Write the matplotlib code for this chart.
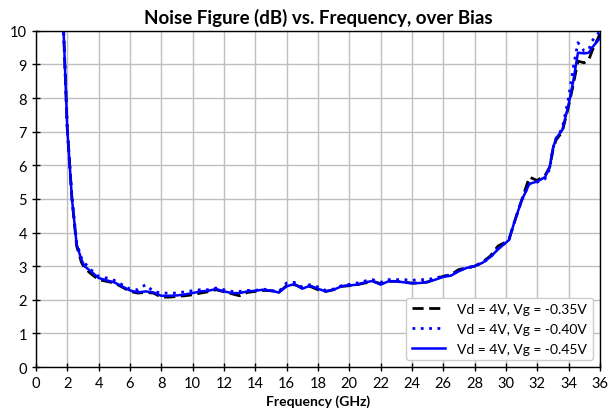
import matplotlib
matplotlib.use("Agg")
import matplotlib.pyplot as plt
import numpy as np

plt.rcParams["font.family"] = ["Lato", "DejaVu Sans"]

# frequency grid (GHz), shared by the three bias curves
freq = [1.75, 2.0, 2.3, 2.6, 2.9, 3.1, 3.5, 4.0, 4.5, 5.0, 5.5, 6.0, 6.5, 7.0, 7.5,
        8.0, 8.5, 9.0, 9.5, 10.0, 10.5, 11.0, 11.5, 12.0, 12.5, 13.0, 13.5, 14.0,
        14.5, 15.0, 15.5, 16.0, 16.5, 17.0, 17.5, 18.0, 18.5, 19.0, 19.5, 20.0,
        20.5, 21.0, 21.5, 22.0, 22.5, 23.0, 23.5, 24.0, 24.5, 25.0, 25.5, 26.0,
        26.5, 27.0, 27.5, 28.0, 28.5, 29.0, 29.5, 30.0, 30.2, 30.5, 31.0, 31.5,
        32.0, 32.5, 32.8, 33.0, 33.2, 33.6, 34.0, 34.3, 34.6, 35.0, 35.3, 35.5, 36.0]

nf_035 = [10.2, 7.1, 5.0, 3.6, 3.12, 2.95, 2.78, 2.6, 2.55, 2.5, 2.38, 2.25, 2.2,
          2.22, 2.2, 2.08, 2.08, 2.1, 2.12, 2.15, 2.2, 2.24, 2.3, 2.24, 2.18, 2.12,
          2.22, 2.25, 2.28, 2.27, 2.22, 2.42, 2.45, 2.36, 2.4, 2.3, 2.25, 2.3, 2.4,
          2.42, 2.45, 2.5, 2.55, 2.48, 2.55, 2.55, 2.52, 2.5, 2.5, 2.53, 2.62, 2.7,
          2.75, 2.9, 2.95, 3.0, 3.12, 3.3, 3.6, 3.72, 3.8, 4.25, 4.95, 5.65, 5.55,
          5.7, 5.95, 6.45, 6.75, 7.0, 7.75, 8.4, 9.1, 9.05, 9.15, 9.4, 9.9]

nf_040 = [10.2, 7.1, 5.05, 3.7, 3.25, 3.1, 2.9, 2.7, 2.65, 2.58, 2.45, 2.32, 2.3,
          2.45, 2.25, 2.2, 2.2, 2.2, 2.24, 2.27, 2.3, 2.3, 2.35, 2.3, 2.25, 2.25,
          2.28, 2.28, 2.32, 2.28, 2.24, 2.5, 2.52, 2.38, 2.45, 2.38, 2.28, 2.32, 2.42,
          2.46, 2.5, 2.56, 2.6, 2.52, 2.6, 2.6, 2.6, 2.58, 2.6, 2.6, 2.65, 2.7,
          2.75, 2.88, 2.95, 3.0, 3.1, 3.25, 3.55, 3.7, 3.78, 4.25, 4.95, 5.45, 5.5,
          5.6, 5.9, 6.5, 6.8, 7.1, 8.0, 8.9, 9.65, 9.4, 9.45, 9.7, 9.98]

nf_045 = [10.2, 7.1, 5.0, 3.65, 3.2, 3.0, 2.85, 2.65, 2.58, 2.52, 2.4, 2.28, 2.22,
          2.25, 2.22, 2.12, 2.12, 2.13, 2.16, 2.2, 2.25, 2.27, 2.32, 2.25, 2.2, 2.2,
          2.25, 2.27, 2.3, 2.27, 2.22, 2.4, 2.47, 2.33, 2.42, 2.33, 2.25, 2.3, 2.4,
          2.43, 2.45, 2.52, 2.56, 2.45, 2.55, 2.55, 2.52, 2.49, 2.5, 2.53, 2.6, 2.68,
          2.72, 2.85, 2.95, 3.0, 3.1, 3.27, 3.5, 3.7, 3.78, 4.25, 4.95, 5.45, 5.52,
          5.65, 5.95, 6.5, 6.8, 7.05, 7.8, 8.5, 9.35, 9.33, 9.35, 9.5, 9.78]

labels = ["Vd = 4V, Vg = -0.35V", "Vd = 4V, Vg = -0.40V", "Vd = 4V, Vg = -0.45V"]

fig = plt.figure(figsize=(6.09, 4.14), dpi=100)
ax = fig.add_axes([0.059, 0.111, 0.926, 0.812])

ax.plot(freq, nf_035, color="black", linestyle=(0, (4, 2)), lw=2, label=labels[0])
ax.plot(freq, nf_040, color="#0000ff", linestyle=(0, (1, 2)), lw=2, label=labels[1])
ax.plot(freq, nf_045, color="#0000ff", linestyle="-", lw=1.8, label=labels[2])

ax.set_xlim(0, 36)
ax.set_ylim(0, 10)
ax.set_xticks(np.arange(0, 37, 2))
ax.set_yticks(np.arange(0, 11, 1))
ax.grid(True, color="#bfbfbf", lw=1)
ax.set_axisbelow(True)
ax.tick_params(direction="inout", length=6, width=1, labelsize=10.5)
for sp in ax.spines.values():
    sp.set_color("black")
    sp.set_linewidth(1)

ax.set_title("Noise Figure (dB) vs. Frequency, over Bias", fontsize=13.5,
             fontweight="bold", pad=6)
ax.set_xlabel("Frequency (GHz)", fontsize=10, fontweight="bold", labelpad=3)

leg = ax.legend(loc="lower right", fontsize=10, frameon=True, fancybox=True,
                handlelength=2.4, handletextpad=0.9, borderaxespad=0.5,
                labelspacing=0.55)
leg.get_frame().set_edgecolor("#cccccc")
leg.get_frame().set_alpha(1)

fig.savefig("out.png", dpi=100)
